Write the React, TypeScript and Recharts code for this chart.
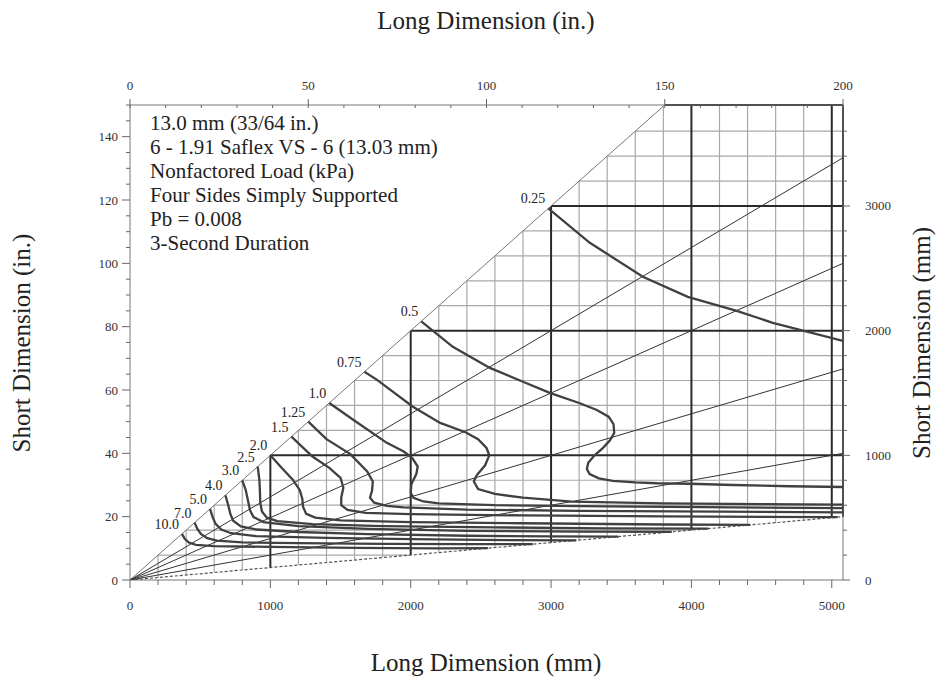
import React from 'react';
import { ComposedChart, XAxis, YAxis, Scatter, ReferenceLine } from 'recharts';

type Pt = [number, number];

const SERIF = '"Liberation Serif", "Times New Roman", serif';

// Load curves: [long dimension (mm), short dimension (mm)]
const load0_25: Pt[] = [[2980, 2980], [3276, 2705], [3654, 2432], [3974, 2271], [4323, 2159], [4580, 2063], [5080, 1918]];
const load0_5: Pt[] = [[2075, 2075], [2300, 1870], [2564, 1701], [2800, 1590], [2991, 1501], [3200, 1420], [3326, 1364], [3410, 1310], [3445, 1250], [3450, 1180], [3420, 1120], [3370, 1060], [3310, 1000], [3265, 940], [3255, 890], [3275, 850], [3340, 815], [3440, 795], [3600, 783], [3754, 776], [3989, 772], [4295, 762], [4700, 752], [5080, 746]];
const load0_75: Pt[] = [[1670, 1670], [1760, 1605], [2016, 1390], [2210, 1260], [2390, 1185], [2480, 1130], [2540, 1060], [2560, 1000], [2530, 920], [2470, 840], [2450, 790], [2480, 730], [2600, 690], [2800, 660], [3150, 628], [3800, 615], [4500, 608], [5080, 604]];
const load1_0: Pt[] = [[1420, 1420], [1590, 1285], [1830, 1100], [1950, 1030], [2010, 980], [2050, 910], [2040, 850], [2005, 770], [2000, 700], [2020, 660], [2090, 630], [2200, 615], [2600, 600], [3400, 590], [4300, 582], [5080, 576]];
const load1_25: Pt[] = [[1270, 1270], [1400, 1130], [1570, 1010], [1690, 870], [1730, 790], [1725, 720], [1710, 660], [1740, 620], [1830, 595], [1950, 582], [2400, 565], [3200, 555], [4200, 548], [5080, 543]];
const load1_5: Pt[] = [[1150, 1150], [1300, 990], [1420, 900], [1500, 820], [1520, 740], [1505, 660], [1505, 600], [1550, 562], [1680, 538], [2000, 528], [2800, 518], [3800, 510], [5040, 504]];
const load2_0: Pt[] = [[1000, 1000], [1080, 900], [1160, 805], [1210, 720], [1228, 650], [1232, 590], [1255, 530], [1320, 500], [1500, 478], [2000, 465], [2800, 455], [3800, 445], [4420, 442]];
const load2_5: Pt[] = [[910, 910], [922, 800], [926, 700], [928, 620], [940, 550], [975, 500], [1050, 472], [1300, 448], [1800, 432], [2600, 422], [3400, 414], [4120, 412]];
const load3_0: Pt[] = [[800, 800], [825, 720], [840, 640], [855, 560], [880, 505], [950, 465], [1200, 432], [1700, 410], [2400, 394], [3200, 388], [3860, 386]];
const load4_0: Pt[] = [[680, 680], [700, 600], [715, 530], [735, 475], [790, 430], [900, 405], [1200, 385], [1700, 368], [2400, 355], [3000, 350], [3480, 348]];
const load5_0: Pt[] = [[570, 570], [590, 500], [610, 450], [650, 405], [720, 375], [900, 352], [1400, 338], [2000, 328], [2700, 320], [3180, 318]];
const load7_0: Pt[] = [[460, 460], [480, 410], [505, 370], [550, 335], [620, 315], [800, 302], [1200, 295], [1800, 290], [2400, 287], [2870, 287]];
const load10_0: Pt[] = [[370, 370], [390, 330], [420, 300], [470, 282], [600, 272], [1000, 265], [1600, 258], [2200, 254], [2550, 255]];

const curveLabels = ['0.25', '0.5', '0.75', '1.0', '1.25', '1.5', '2.0', '2.5', '3.0', '4.0', '5.0', '7.0', '10.0'];
const curves: Pt[][] = [load0_25, load0_5, load0_75, load1_0, load1_25, load1_5, load2_0, load2_5, load3_0, load4_0, load5_0, load7_0, load10_0];

// Aspect-ratio lines from the origin (1, 1.5, 2, 3, 5) and the limit line (10)
const aspectLineEnds: Pt[] = [[3810, 3810], [5080, 3387], [5080, 2540], [5080, 1693], [5080, 1016]];
const aspectLimitEnd: Pt = [5080, 508];

// Grid (mm)
const gridLongMm = [200, 400, 600, 800, 1200, 1400, 1600, 1800, 2200, 2400, 2600, 2800, 3200, 3400, 3600, 3800, 4200, 4400, 4600, 4800];
const heavyLongMm = [1000, 2000, 3000, 4000, 5000, 5080];
const gridShortMm = [200, 400, 600, 800, 1200, 1400, 1600, 1800, 2200, 2400, 2600, 2800, 3200, 3400, 3600];
const heavyShortMm = [1000, 2000, 3000, 3810];

// Axis ticks
const bottomTicksMm = [0, 200, 400, 600, 800, 1000, 1200, 1400, 1600, 1800, 2000, 2200, 2400, 2600, 2800, 3000, 3200, 3400, 3600, 3800, 4000, 4200, 4400, 4600, 4800, 5000];
const topTicksIn = [0, 10, 20, 30, 40, 50, 60, 70, 80, 90, 100, 110, 120, 130, 140, 150, 160, 170, 180, 190, 200];
const leftTicksIn = [0, 5, 10, 15, 20, 25, 30, 35, 40, 45, 50, 55, 60, 65, 70, 75, 80, 85, 90, 95, 100, 105, 110, 115, 120, 125, 130, 135, 140, 145, 150];
const rightTicksMm = [0, 200, 400, 600, 800, 1000, 1200, 1400, 1600, 1800, 2000, 2200, 2400, 2600, 2800, 3000, 3200, 3400, 3600];

const infoLines = [
  '13.0 mm (33/64 in.)',
  '6 - 1.91 Saflex VS - 6 (13.03 mm)',
  'Nonfactored Load (kPa)',
  'Four Sides Simply Supported',
  'Pb = 0.008',
  '3-Second Duration',
];

const toXY = (pts: Pt[]) => pts.map(([x, y]) => ({ x, y }));

const TICK_STYLE = { fontFamily: SERIF, fontSize: 13, fill: '#333' };

function BottomTick(p: any) {
  const v = p.payload.value;
  const major = v % 1000 === 0;
  return (
    <g>
      <line x1={p.x} x2={p.x} y1={p.y} y2={p.y + (major ? 8 : 5)} stroke="#666" />
      {major ? <text x={p.x} y={p.y + 30} textAnchor="middle" {...TICK_STYLE}>{v}</text> : null}
    </g>
  );
}
function TopTick(p: any) {
  const v = p.payload.value;
  const major = v % 50 === 0;
  return (
    <g>
      <line x1={p.x} x2={p.x} y1={major ? p.y - 6 : p.y} y2={p.y + 3} stroke="#666" />
      {major ? <text x={p.x} y={p.y - 15} textAnchor="middle" {...TICK_STYLE}>{v}</text> : null}
    </g>
  );
}
function LeftTick(p: any) {
  const v = p.payload.value;
  const major = v % 20 === 0;
  return (
    <g>
      <line x1={p.x} x2={p.x - (major ? 8 : 4)} y1={p.y} y2={p.y} stroke="#666" />
      {major ? <text x={p.x - 12} y={p.y + 4.5} textAnchor="end" {...TICK_STYLE}>{v}</text> : null}
    </g>
  );
}
function RightTick(p: any) {
  const v = p.payload.value;
  const major = v % 1000 === 0;
  return (
    <g>
      <line x1={p.x} x2={p.x + (major ? 7 : 4)} y1={p.y} y2={p.y} stroke="#666" />
      {major ? <text x={p.x + 22} y={p.y + 4.5} textAnchor="start" {...TICK_STYLE}>{v}</text> : null}
    </g>
  );
}

const noShape = () => <g />;

export default function App() {
  const labelPts = curves.map((c, i) => ({ x: c[0][0], y: c[0][1], label: curveLabels[i] }));
  const titleStyle: React.CSSProperties = {
    position: 'absolute', fontFamily: SERIF, fontSize: 25, color: '#222',
    textAlign: 'center', whiteSpace: 'nowrap', lineHeight: '30px', height: 30,
  };
  return (
    <div style={{ position: 'fixed', left: 0, top: 0, width: 941, height: 680, overflow: 'hidden', background: '#fff' }}>
      <div style={{ position: 'absolute', left: 0, top: 0 }}>
        <ComposedChart width={941} height={680} margin={{ top: 75, right: 38, bottom: 70, left: 70 }}>
          <XAxis xAxisId="mm" orientation="bottom" type="number" dataKey="x" domain={[0, 5080]} allowDataOverflow
            ticks={bottomTicksMm} interval={0} tick={BottomTick} tickLine={false} tickSize={0} tickMargin={0}
            height={30} axisLine={{ stroke: '#777' }} />
          <XAxis xAxisId="in" orientation="top" type="number" dataKey="x" domain={[0, 200]} allowDataOverflow
            ticks={topTicksIn} interval={0} tick={TopTick} tickLine={false} tickSize={0} tickMargin={0}
            height={30} axisLine={{ stroke: '#777' }} />
          <YAxis yAxisId="in" orientation="left" type="number" dataKey="y" domain={[0, 150]} allowDataOverflow
            ticks={leftTicksIn} interval={0} tick={LeftTick} tickLine={false} tickSize={0} tickMargin={0}
            width={60} axisLine={{ stroke: '#777' }} />
          <YAxis yAxisId="mm" orientation="right" type="number" dataKey="y" domain={[0, 3810]} allowDataOverflow
            ticks={rightTicksMm} interval={0} tick={RightTick} tickLine={false} tickSize={0} tickMargin={0}
            width={60} axisLine={{ stroke: '#777' }} />

          {/* hidden anchor series for the inch axes */}
          <Scatter xAxisId="in" yAxisId="in" data={[{ x: 0, y: 0 }, { x: 200, y: 150 }]} shape={noShape}
            isAnimationActive={false} legendType="none" />

          {/* light grid */}
          {gridLongMm.map((x) => (
            <ReferenceLine key={'gv' + x} xAxisId="mm" yAxisId="mm" ifOverflow="visible"
              segment={[{ x, y: x / 10 }, { x, y: Math.min(x, 3810) }]} stroke="#a8a8a8" strokeWidth={1.2} />
          ))}
          {gridShortMm.map((y) => (
            <ReferenceLine key={'gh' + y} xAxisId="mm" yAxisId="mm" ifOverflow="visible"
              segment={[{ x: y, y }, { x: Math.min(y * 10, 5080), y }]} stroke="#a8a8a8" strokeWidth={1.2} />
          ))}
          {/* heavy grid */}
          {heavyLongMm.map((x) => (
            <ReferenceLine key={'hv' + x} xAxisId="mm" yAxisId="mm" ifOverflow="visible"
              segment={[{ x, y: x / 10 }, { x, y: Math.min(x, 3810) }]} stroke="#2a2a2a" strokeWidth={2} />
          ))}
          {heavyShortMm.map((y) => (
            <ReferenceLine key={'hh' + y} xAxisId="mm" yAxisId="mm" ifOverflow="visible"
              segment={[{ x: y, y }, { x: 5080, y }]} stroke="#2a2a2a" strokeWidth={2} />
          ))}

          {/* aspect-ratio lines */}
          {aspectLineEnds.map((e, i) => (
            <Scatter key={'ar' + i} xAxisId="mm" yAxisId="mm" data={toXY([[0, 0], e])} shape={noShape}
              line={{ stroke: i === 0 ? '#777' : '#333', strokeWidth: 1, fill: 'none' }}
              isAnimationActive={false} legendType="none" />
          ))}
          <Scatter xAxisId="mm" yAxisId="mm" data={toXY([[0, 0], aspectLimitEnd])} shape={noShape}
            line={{ stroke: '#555', strokeWidth: 1.2, strokeDasharray: '3 2', fill: 'none' }}
            isAnimationActive={false} legendType="none" />

          {/* load curves */}
          {curves.map((c, i) => (
            <Scatter key={'lc' + i} xAxisId="mm" yAxisId="mm" data={toXY(c)} shape={noShape}
              line={{ stroke: '#404040', strokeWidth: 2.3, fill: 'none' }}
              isAnimationActive={false} legendType="none" />
          ))}

          {/* curve labels */}
          <Scatter xAxisId="mm" yAxisId="mm" data={labelPts} isAnimationActive={false} legendType="none"
            shape={(p: any) => (
              <text x={p.cx - 3} y={p.cy - 5} textAnchor="end" fontFamily={SERIF} fontSize={14} fill="#222">
                {p.payload.label}
              </text>
            )} />
        </ComposedChart>
      </div>

      <div style={{ ...titleStyle, left: 286, width: 400, top: 6 }}>Long Dimension (in.)</div>
      <div style={{ ...titleStyle, left: 286, width: 400, top: 648 }}>Long Dimension (mm)</div>
      <div style={{ ...titleStyle, left: 22 - 150, width: 300, top: 343 - 15, transform: 'rotate(-90deg)' }}>Short Dimension (in.)</div>
      <div style={{ ...titleStyle, left: 922 - 150, width: 300, top: 343 - 15, transform: 'rotate(-90deg)' }}>Short Dimension (mm)</div>

      <div style={{ position: 'absolute', left: 150, top: 111, fontFamily: SERIF, fontSize: 21, lineHeight: '24px', color: '#222', whiteSpace: 'nowrap' }}>
        {infoLines.map((t) => (<div key={t}>{t}</div>))}
      </div>
    </div>
  );
}
